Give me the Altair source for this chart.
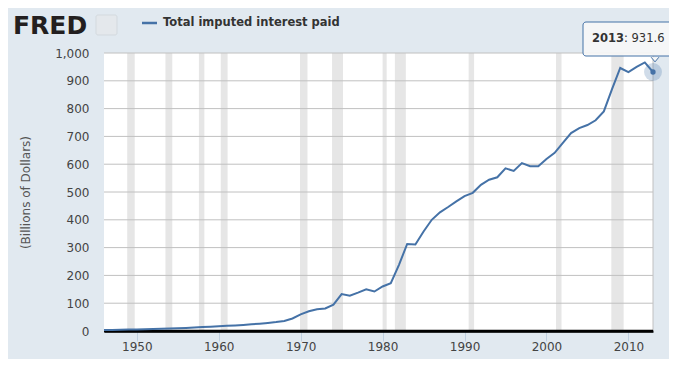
import altair as alt
import pandas as pd

# ---- data ----
years = list(range(1946, 2014))
values = [3.5, 4.0, 4.5, 5.0, 5.5, 6.2, 7.0, 8.0, 8.8, 9.8,
          11.0, 12.5, 14.0, 15.5, 17.0, 18.5, 20.0, 22.0, 24.0, 26.5,
          29.0, 32.0, 36.0, 45.0, 60.0, 71.0, 78.0, 81.0, 95.0, 133.0,
          127.0, 138.0, 150.0, 142.0, 160.0, 172.0, 238.0, 313.0, 311.0, 358.0,
          400.0, 427.0, 446.0, 466.0, 485.0, 497.0, 526.0, 544.0, 553.0, 585.0,
          576.0, 604.0, 593.0, 593.0, 619.0, 641.0, 677.0, 712.0, 730.0, 741.0,
          758.0, 790.0, 870.0, 946.0, 931.0, 950.0, 966.0, 931.6]

# NBER recessions (start year, start month, end year, end month)
rec_start_year = [1948, 1953, 1957, 1960, 1969, 1973, 1980, 1981, 1990, 2001, 2007]
rec_start_month = [11, 7, 8, 4, 12, 11, 1, 7, 7, 3, 12]
rec_end_year = [1949, 1954, 1958, 1961, 1970, 1975, 1980, 1982, 1991, 2001, 2009]
rec_end_month = [10, 5, 4, 2, 11, 3, 7, 11, 3, 11, 6]

y_ticks = [0, 100, 200, 300, 400, 500, 600, 700, 800, 900, 1000]
x_ticks = [1950, 1960, 1970, 1980, 1990, 2000, 2010]

series_name = "Total imputed interest paid"
y_title = "(Billions of Dollars)"
logo_text = "FRED"

# ---- tables ----
df = pd.DataFrame({"year": years, "value": values})
rec = pd.DataFrame({
    "start": [y + (m - 1) / 12 for y, m in zip(rec_start_year, rec_start_month)],
    "end": [y + (m - 1) / 12 for y, m in zip(rec_end_year, rec_end_month)],
})
grid = pd.DataFrame({"v": y_ticks})
last = df.tail(1)
tip = pd.DataFrame({"yr": [str(years[-1])], "val": [": " + str(values[-1])]})
legend = pd.DataFrame({"name": [series_name]})
logo = pd.DataFrame({"name": [logo_text]})

W, H = 549, 278
BLUE = "#4572a7"
FONT = "DejaVu Sans"

xscale = alt.Scale(domain=[years[0], years[-1]], nice=False, zero=False)
yscale = alt.Scale(domain=[0, 1000], nice=False)

x_axis = alt.Axis(values=x_ticks, format="d", title=None, grid=False,
                  tickColor="#c0d0e0", tickSize=10, tickWidth=1,
                  domain=True, domainColor="#000000", domainWidth=2.5,
                  labelColor="#444444", labelFontSize=12, labelFont=FONT,
                  labelPadding=0, labelOverlap=False)
y_axis = alt.Axis(values=y_ticks, format=",d", grid=False, domain=False,
                  ticks=False, labelPadding=15, labelColor="#444444",
                  labelFontSize=12, labelFont=FONT, labelOverlap=False,
                  title=y_title, titleFont=FONT, titleFontSize=12,
                  titleFontWeight="normal", titleColor="#555555",
                  titleX=-79, titleY=139, titleAngle=-90,
                  titleAlign="center", titleBaseline="middle")

bands = alt.Chart(rec).mark_rect(color="#e6e6e6").encode(
    x=alt.X("start:Q", scale=xscale, axis=x_axis), x2="end:Q")

gridlines = alt.Chart(grid).mark_rule(color="#c0c0c0", strokeWidth=1).encode(
    y=alt.Y("v:Q", scale=yscale, axis=y_axis),
    x=alt.value(0), x2=alt.value(W)).transform_filter("datum.v > 0")

right_edge = alt.Chart(logo).mark_rule(color="#c0c0c0", strokeWidth=1).encode(
    x=alt.value(W), y=alt.value(0), y2=alt.value(H))

baseline = alt.Chart(logo).mark_rule(color="#000000", strokeWidth=2.5).encode(
    x=alt.value(0), x2=alt.value(W), y=alt.value(H))

line = alt.Chart(df).mark_line(color=BLUE, strokeWidth=2).encode(
    x=alt.X("year:Q", scale=xscale, axis=x_axis),
    y=alt.Y("value:Q", scale=yscale, axis=y_axis))

halo = alt.Chart(last).mark_circle(color=BLUE, opacity=0.25, size=320).encode(
    x=alt.X("year:Q", scale=xscale, axis=x_axis),
    y=alt.Y("value:Q", scale=yscale, axis=y_axis))
dot = alt.Chart(last).mark_circle(color=BLUE, opacity=1, size=28).encode(
    x=alt.X("year:Q", scale=xscale, axis=x_axis),
    y=alt.Y("value:Q", scale=yscale, axis=y_axis))

tip_box = alt.Chart(tip).mark_rect(fill="#f7f7f7", fillOpacity=0.9, stroke=BLUE,
                                   strokeWidth=1, cornerRadius=3).encode(
    x=alt.value(479), x2=alt.value(568), y=alt.value(-31), y2=alt.value(3))
tip_ptr = alt.Chart(tip).mark_point(shape="M-1,-0.2L0,1L1,-0.2", filled=False,
                                    fill="#f7f7f7", fillOpacity=1, stroke=BLUE,
                                    strokeWidth=1, size=60, opacity=1).encode(
    x=alt.value(551), y=alt.value(5))
tip_year = alt.Chart(tip).mark_text(align="left", baseline="middle", font=FONT,
                                    fontSize=11.5, fontWeight="bold",
                                    color="#333333").encode(
    x=alt.value(488), y=alt.value(-14), text="yr:N")
tip_val = alt.Chart(tip).mark_text(align="left", baseline="middle", font=FONT,
                                   fontSize=11.5, color="#333333").encode(
    x=alt.value(520), y=alt.value(-14), text="val:N")

leg_line = alt.Chart(legend).mark_rule(color=BLUE, strokeWidth=2.5).encode(
    x=alt.value(38), x2=alt.value(53), y=alt.value(-30))
leg_text = alt.Chart(legend).mark_text(align="left", baseline="middle", font=FONT,
                                       fontSize=11.5, fontWeight="bold",
                                       color="#333333").encode(
    x=alt.value(59), y=alt.value(-30), text="name:N")

logo_txt = alt.Chart(logo).mark_text(align="left", baseline="alphabetic",
                                     font=FONT, fontSize=25, fontWeight="bold",
                                     color="#231f20").encode(
    x=alt.value(-91), y=alt.value(-19), text="name:N")
logo_box = alt.Chart(logo).mark_rect(fill="#e4e8ec", stroke="#d3d9de",
                                     cornerRadius=2).encode(
    x=alt.value(-8), x2=alt.value(13), y=alt.value(-38), y2=alt.value(-18))

chart = alt.layer(
    bands, gridlines, right_edge, baseline, line, halo, dot,
    tip_box, tip_ptr, tip_year, tip_val,
    leg_line, leg_text, logo_box, logo_txt
).properties(
    width=W, height=H,
    autosize=alt.AutoSizeParams(type="none"),
    padding={"left": 96, "top": 45, "right": 16, "bottom": 28},
    background="#e1e9f0",
).configure_view(fill="white", strokeWidth=0)

chart.save("out.html", embed_options={"renderer": "svg", "actions": False})
